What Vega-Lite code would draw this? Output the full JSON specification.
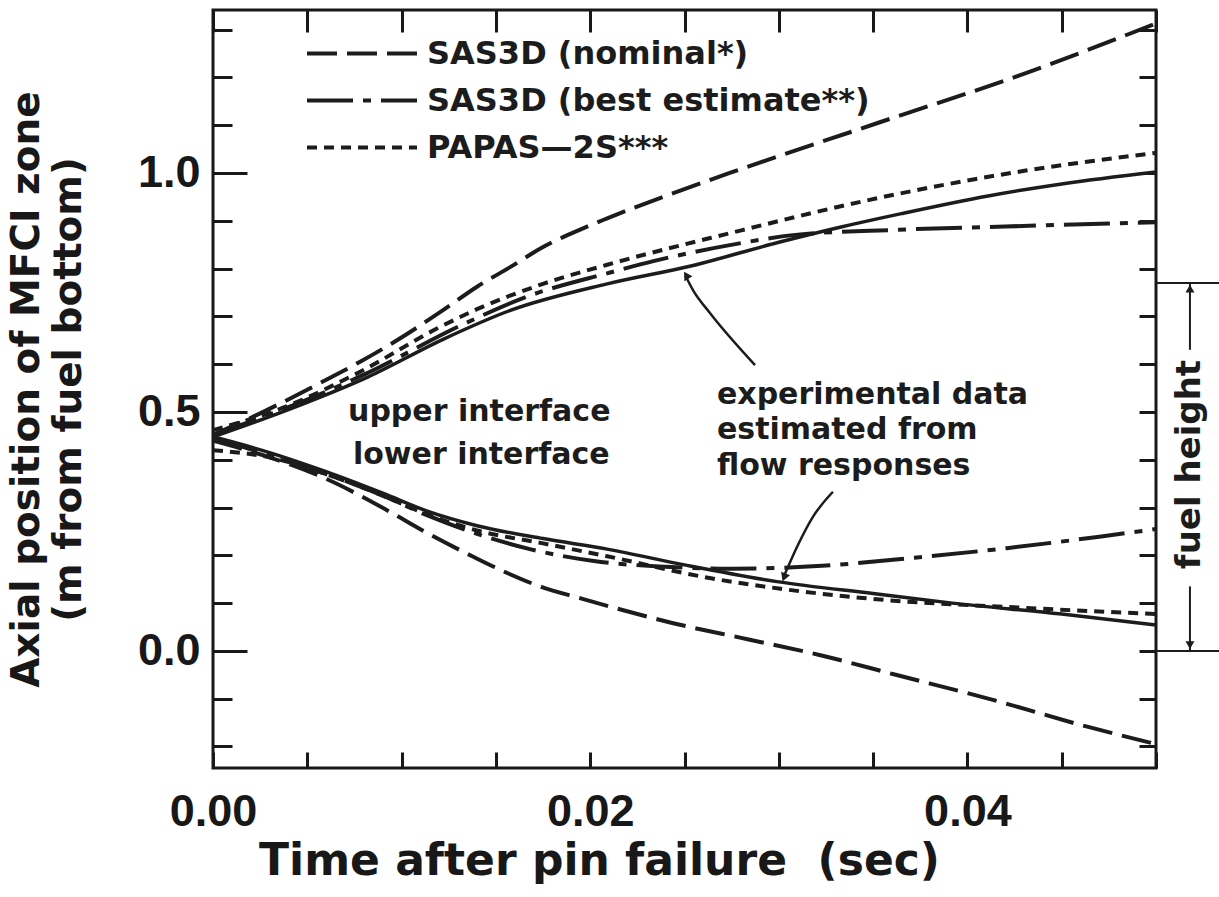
{
  "$schema": "https://vega.github.io/schema/vega-lite/v6.json",
  "width": 943,
  "height": 758,
  "autosize": {"type": "none"},
  "padding": {"left": 213, "top": 10, "right": 63, "bottom": 129},
  "background": "white",
  "config": {
    "view": {"stroke": "#181818", "strokeWidth": 3},
    "font": "DejaVu Sans",
    "axis": {"grid": false, "domain": false, "labelColor": "#181818", "tickColor": "#181818", "titleColor": "#181818", "tickWidth": 3}
  },
  "datasets": {
    "curves": [
      {"model": "SAS3D (nominal*)", "iface": "upper", "t": 0, "v": 0.452},
      {"model": "SAS3D (nominal*)", "iface": "upper", "t": 0.0025, "v": 0.497},
      {"model": "SAS3D (nominal*)", "iface": "upper", "t": 0.0057, "v": 0.561},
      {"model": "SAS3D (nominal*)", "iface": "upper", "t": 0.0078, "v": 0.605},
      {"model": "SAS3D (nominal*)", "iface": "upper", "t": 0.0098, "v": 0.651},
      {"model": "SAS3D (nominal*)", "iface": "upper", "t": 0.0122, "v": 0.713},
      {"model": "SAS3D (nominal*)", "iface": "upper", "t": 0.014, "v": 0.762},
      {"model": "SAS3D (nominal*)", "iface": "upper", "t": 0.0158, "v": 0.804},
      {"model": "SAS3D (nominal*)", "iface": "upper", "t": 0.0175, "v": 0.845},
      {"model": "SAS3D (nominal*)", "iface": "upper", "t": 0.0195, "v": 0.882},
      {"model": "SAS3D (nominal*)", "iface": "upper", "t": 0.0209, "v": 0.905},
      {"model": "SAS3D (nominal*)", "iface": "upper", "t": 0.0274, "v": 1.0},
      {"model": "SAS3D (nominal*)", "iface": "upper", "t": 0.0352, "v": 1.104},
      {"model": "SAS3D (nominal*)", "iface": "upper", "t": 0.0431, "v": 1.209},
      {"model": "SAS3D (nominal*)", "iface": "upper", "t": 0.05, "v": 1.313},

      {"model": "SAS3D (nominal*)", "iface": "lower", "t": 0, "v": 0.44},
      {"model": "SAS3D (nominal*)", "iface": "lower", "t": 0.003, "v": 0.405},
      {"model": "SAS3D (nominal*)", "iface": "lower", "t": 0.006, "v": 0.36},
      {"model": "SAS3D (nominal*)", "iface": "lower", "t": 0.0092, "v": 0.295},
      {"model": "SAS3D (nominal*)", "iface": "lower", "t": 0.0112, "v": 0.25},
      {"model": "SAS3D (nominal*)", "iface": "lower", "t": 0.0138, "v": 0.197},
      {"model": "SAS3D (nominal*)", "iface": "lower", "t": 0.0156, "v": 0.163},
      {"model": "SAS3D (nominal*)", "iface": "lower", "t": 0.0174, "v": 0.134},
      {"model": "SAS3D (nominal*)", "iface": "lower", "t": 0.0195, "v": 0.11},
      {"model": "SAS3D (nominal*)", "iface": "lower", "t": 0.0244, "v": 0.058},
      {"model": "SAS3D (nominal*)", "iface": "lower", "t": 0.0284, "v": 0.024},
      {"model": "SAS3D (nominal*)", "iface": "lower", "t": 0.0321, "v": -0.008},
      {"model": "SAS3D (nominal*)", "iface": "lower", "t": 0.0362, "v": -0.05},
      {"model": "SAS3D (nominal*)", "iface": "lower", "t": 0.0414, "v": -0.103},
      {"model": "SAS3D (nominal*)", "iface": "lower", "t": 0.0463, "v": -0.158},
      {"model": "SAS3D (nominal*)", "iface": "lower", "t": 0.05, "v": -0.195},

      {"model": "SAS3D (best estimate**)", "iface": "upper", "t": 0, "v": 0.452},
      {"model": "SAS3D (best estimate**)", "iface": "upper", "t": 0.004, "v": 0.51},
      {"model": "SAS3D (best estimate**)", "iface": "upper", "t": 0.008, "v": 0.578},
      {"model": "SAS3D (best estimate**)", "iface": "upper", "t": 0.0133, "v": 0.684},
      {"model": "SAS3D (best estimate**)", "iface": "upper", "t": 0.0167, "v": 0.742},
      {"model": "SAS3D (best estimate**)", "iface": "upper", "t": 0.0209, "v": 0.79},
      {"model": "SAS3D (best estimate**)", "iface": "upper", "t": 0.0234, "v": 0.816},
      {"model": "SAS3D (best estimate**)", "iface": "upper", "t": 0.0274, "v": 0.849},
      {"model": "SAS3D (best estimate**)", "iface": "upper", "t": 0.031, "v": 0.871},
      {"model": "SAS3D (best estimate**)", "iface": "upper", "t": 0.0362, "v": 0.881},
      {"model": "SAS3D (best estimate**)", "iface": "upper", "t": 0.042, "v": 0.888},
      {"model": "SAS3D (best estimate**)", "iface": "upper", "t": 0.05, "v": 0.897},

      {"model": "SAS3D (best estimate**)", "iface": "lower", "t": 0, "v": 0.445},
      {"model": "SAS3D (best estimate**)", "iface": "lower", "t": 0.003, "v": 0.41},
      {"model": "SAS3D (best estimate**)", "iface": "lower", "t": 0.006, "v": 0.37},
      {"model": "SAS3D (best estimate**)", "iface": "lower", "t": 0.009, "v": 0.325},
      {"model": "SAS3D (best estimate**)", "iface": "lower", "t": 0.0114, "v": 0.283},
      {"model": "SAS3D (best estimate**)", "iface": "lower", "t": 0.014, "v": 0.245},
      {"model": "SAS3D (best estimate**)", "iface": "lower", "t": 0.0168, "v": 0.213},
      {"model": "SAS3D (best estimate**)", "iface": "lower", "t": 0.0202, "v": 0.188},
      {"model": "SAS3D (best estimate**)", "iface": "lower", "t": 0.024, "v": 0.176},
      {"model": "SAS3D (best estimate**)", "iface": "lower", "t": 0.0274, "v": 0.172},
      {"model": "SAS3D (best estimate**)", "iface": "lower", "t": 0.0323, "v": 0.178},
      {"model": "SAS3D (best estimate**)", "iface": "lower", "t": 0.0372, "v": 0.195},
      {"model": "SAS3D (best estimate**)", "iface": "lower", "t": 0.0421, "v": 0.215},
      {"model": "SAS3D (best estimate**)", "iface": "lower", "t": 0.047, "v": 0.239},
      {"model": "SAS3D (best estimate**)", "iface": "lower", "t": 0.05, "v": 0.255},

      {"model": "PAPAS—2S***", "iface": "upper", "t": 0, "v": 0.462},
      {"model": "PAPAS—2S***", "iface": "upper", "t": 0.0034, "v": 0.504},
      {"model": "PAPAS—2S***", "iface": "upper", "t": 0.0078, "v": 0.584},
      {"model": "PAPAS—2S***", "iface": "upper", "t": 0.0119, "v": 0.675},
      {"model": "PAPAS—2S***", "iface": "upper", "t": 0.014, "v": 0.715},
      {"model": "PAPAS—2S***", "iface": "upper", "t": 0.0175, "v": 0.768},
      {"model": "PAPAS—2S***", "iface": "upper", "t": 0.0209, "v": 0.808},
      {"model": "PAPAS—2S***", "iface": "upper", "t": 0.0274, "v": 0.874},
      {"model": "PAPAS—2S***", "iface": "upper", "t": 0.0352, "v": 0.947},
      {"model": "PAPAS—2S***", "iface": "upper", "t": 0.0431, "v": 1.005},
      {"model": "PAPAS—2S***", "iface": "upper", "t": 0.05, "v": 1.042},

      {"model": "PAPAS—2S***", "iface": "lower", "t": 0, "v": 0.42},
      {"model": "PAPAS—2S***", "iface": "lower", "t": 0.003, "v": 0.405},
      {"model": "PAPAS—2S***", "iface": "lower", "t": 0.006, "v": 0.37},
      {"model": "PAPAS—2S***", "iface": "lower", "t": 0.009, "v": 0.325},
      {"model": "PAPAS—2S***", "iface": "lower", "t": 0.0114, "v": 0.285},
      {"model": "PAPAS—2S***", "iface": "lower", "t": 0.014, "v": 0.252},
      {"model": "PAPAS—2S***", "iface": "lower", "t": 0.0175, "v": 0.225},
      {"model": "PAPAS—2S***", "iface": "lower", "t": 0.0209, "v": 0.198},
      {"model": "PAPAS—2S***", "iface": "lower", "t": 0.0264, "v": 0.152},
      {"model": "PAPAS—2S***", "iface": "lower", "t": 0.0301, "v": 0.13},
      {"model": "PAPAS—2S***", "iface": "lower", "t": 0.0352, "v": 0.108},
      {"model": "PAPAS—2S***", "iface": "lower", "t": 0.0431, "v": 0.09},
      {"model": "PAPAS—2S***", "iface": "lower", "t": 0.05, "v": 0.077},

      {"model": "experimental", "iface": "upper", "t": 0, "v": 0.448},
      {"model": "experimental", "iface": "upper", "t": 0.004, "v": 0.505},
      {"model": "experimental", "iface": "upper", "t": 0.0082, "v": 0.573},
      {"model": "experimental", "iface": "upper", "t": 0.0122, "v": 0.652},
      {"model": "experimental", "iface": "upper", "t": 0.0158, "v": 0.713},
      {"model": "experimental", "iface": "upper", "t": 0.0209, "v": 0.768},
      {"model": "experimental", "iface": "upper", "t": 0.0254, "v": 0.806},
      {"model": "experimental", "iface": "upper", "t": 0.03, "v": 0.855},
      {"model": "experimental", "iface": "upper", "t": 0.0333, "v": 0.887},
      {"model": "experimental", "iface": "upper", "t": 0.0365, "v": 0.915},
      {"model": "experimental", "iface": "upper", "t": 0.0411, "v": 0.952},
      {"model": "experimental", "iface": "upper", "t": 0.045, "v": 0.977},
      {"model": "experimental", "iface": "upper", "t": 0.05, "v": 1.002},

      {"model": "experimental", "iface": "lower", "t": 0, "v": 0.448},
      {"model": "experimental", "iface": "lower", "t": 0.003, "v": 0.415},
      {"model": "experimental", "iface": "lower", "t": 0.006, "v": 0.375},
      {"model": "experimental", "iface": "lower", "t": 0.009, "v": 0.33},
      {"model": "experimental", "iface": "lower", "t": 0.0114, "v": 0.292},
      {"model": "experimental", "iface": "lower", "t": 0.014, "v": 0.262},
      {"model": "experimental", "iface": "lower", "t": 0.0175, "v": 0.235},
      {"model": "experimental", "iface": "lower", "t": 0.0209, "v": 0.213},
      {"model": "experimental", "iface": "lower", "t": 0.025, "v": 0.18},
      {"model": "experimental", "iface": "lower", "t": 0.0299, "v": 0.145},
      {"model": "experimental", "iface": "lower", "t": 0.035, "v": 0.12},
      {"model": "experimental", "iface": "lower", "t": 0.0392, "v": 0.1},
      {"model": "experimental", "iface": "lower", "t": 0.045, "v": 0.077},
      {"model": "experimental", "iface": "lower", "t": 0.05, "v": 0.054}
    ],
    "pointers": [
      {"arrow": "upper", "t": 0.02874, "v": 0.598},
      {"arrow": "upper", "t": 0.02635, "v": 0.707},
      {"arrow": "upper", "t": 0.02545, "v": 0.755},
      {"arrow": "upper", "t": 0.02505, "v": 0.785},
      {"arrow": "lower", "t": 0.03287, "v": 0.333},
      {"arrow": "lower", "t": 0.0318, "v": 0.28},
      {"arrow": "lower", "t": 0.03097, "v": 0.218},
      {"arrow": "lower", "t": 0.03026, "v": 0.155}
    ],
    "heads": [
      {"tip": "upper", "t": 0.02509, "v": 0.786},
      {"tip": "lower", "t": 0.03028, "v": 0.154},
      {"tip": "fuel top", "t": 0.0518, "v": 0.758},
      {"tip": "fuel base", "t": 0.0518, "v": 0.012}
    ],
    "fuel": [
      {"part": "top", "t1": 0.05, "t2": 0.0534, "v1": 0.77, "v2": 0.77},
      {"part": "base", "t1": 0.05, "t2": 0.0534, "v1": 0, "v2": 0},
      {"part": "up", "t1": 0.0518, "t2": 0.0518, "v1": 0.77, "v2": 0.63},
      {"part": "down", "t1": 0.0518, "t2": 0.0518, "v1": 0.135, "v2": 0}
    ],
    "notes": [
      {"label": "upper interface", "t": 0.00716, "v": 0.5},
      {"label": "lower interface", "t": 0.00742, "v": 0.41},
      {"label": "experimental data", "t": 0.02672, "v": 0.536},
      {"label": "estimated from", "t": 0.02672, "v": 0.462},
      {"label": "flow responses", "t": 0.02672, "v": 0.387}
    ],
    "side": [
      {"label": "fuel height", "t": 0.0518, "v": 0.39}
    ]
  },
  "resolve": {"axis": {"x": "independent", "y": "independent"}},
  "layer": [
    {
      "data": {"name": "curves"},
      "transform": [{"filter": "datum.model !== 'experimental'"}],
      "mark": {"type": "line", "interpolate": "monotone", "strokeWidth": 4, "color": "#1c1c1c"},
      "encoding": {
        "x": {
          "field": "t", "type": "quantitative",
          "scale": {"domain": [0, 0.05], "nice": false, "zero": false},
          "axis": {
            "orient": "bottom", "values": [0, 0.02, 0.04], "format": ".2f", "ticks": false,
            "labelFont": "Liberation Sans", "labelFontSize": 45, "labelFontWeight": "bold",
            "labelPadding": 21, "labelFlush": false,
            "title": "Time after pin failure \u00a0(sec)", "titleFont": "DejaVu Sans", "titleFontSize": 44,
            "titleFontWeight": "bold", "titleX": 386, "titleY": 93, "titleBaseline": "middle", "titleAlign": "center"
          }
        },
        "y": {
          "field": "v", "type": "quantitative",
          "scale": {"domain": [-0.245, 1.341], "nice": false, "zero": false},
          "axis": {
            "orient": "left", "values": [0, 0.5, 1.0], "format": ".1f", "ticks": false,
            "labelFont": "Liberation Sans", "labelFontSize": 45, "labelFontWeight": "bold", "labelPadding": 13,
            "title": ["Axial position of MFCI zone", "(m from fuel bottom)"], "titleFont": "DejaVu Sans",
            "titleFontSize": 39, "titleFontWeight": "bold", "titleLineHeight": 42, "titleAngle": 270,
            "titleX": -187, "titleY": 379, "titleBaseline": "middle", "titleAlign": "center"
          }
        },
        "strokeDash": {
          "field": "model", "type": "nominal",
          "scale": {
            "domain": ["SAS3D (nominal*)", "SAS3D (best estimate**)", "PAPAS—2S***"],
            "range": [[30, 10], [46, 10, 8, 10], [10, 7]]
          },
          "legend": {
            "orient": "none", "legendX": 92, "legendY": 20, "title": null, "padding": 0,
            "symbolType": "stroke", "symbolSize": 12100, "symbolStrokeWidth": 4, "symbolStrokeColor": "#1c1c1c",
            "labelFont": "DejaVu Sans", "labelFontSize": 32, "labelFontWeight": "bold", "labelColor": "#1c1c1c",
            "labelOffset": 8, "labelLimit": 0, "clipHeight": 47, "rowPadding": 0
          }
        },
        "detail": {"field": "iface", "type": "nominal"}
      }
    },
    {
      "data": {"name": "curves"},
      "transform": [{"filter": "datum.model === 'experimental'"}],
      "mark": {"type": "line", "interpolate": "monotone", "strokeWidth": 3.5, "color": "#1c1c1c"},
      "encoding": {
        "x": {
          "field": "t", "type": "quantitative",
          "scale": {"domain": [0, 0.05], "nice": false, "zero": false},
          "axis": {
            "orient": "top", "values": [0, 0.005, 0.01, 0.015, 0.02, 0.025, 0.03, 0.035, 0.04, 0.045, 0.05],
            "labels": false, "title": null, "tickSize": -22
          }
        },
        "y": {
          "field": "v", "type": "quantitative",
          "scale": {"domain": [-0.245, 1.341], "nice": false, "zero": false},
          "axis": {"orient": "left", "values": [0, 0.5, 1.0], "labels": false, "title": null, "tickSize": -34}
        },
        "detail": {"field": "iface", "type": "nominal"}
      }
    },
    {
      "data": {"name": "pointers"},
      "mark": {"type": "line", "interpolate": "monotone", "strokeWidth": 2.5, "color": "#1c1c1c"},
      "encoding": {
        "x": {
          "field": "t", "type": "quantitative",
          "scale": {"domain": [0, 0.05], "nice": false, "zero": false},
          "axis": {
            "orient": "bottom", "values": [0, 0.005, 0.01, 0.015, 0.02, 0.025, 0.03, 0.035, 0.04, 0.045, 0.05],
            "labels": false, "title": null, "tickSize": -16
          }
        },
        "y": {
          "field": "v", "type": "quantitative",
          "scale": {"domain": [-0.245, 1.341], "nice": false, "zero": false},
          "axis": {
            "orient": "left", "values": [-0.2, -0.1, 0.1, 0.2, 0.3, 0.4, 0.6, 0.7, 0.8, 0.9, 1.1, 1.2, 1.3],
            "labels": false, "title": null, "tickSize": -19
          }
        },
        "detail": {"field": "arrow", "type": "nominal"}
      }
    },
    {
      "data": {"name": "fuel"},
      "mark": {"type": "rule", "strokeWidth": 2, "color": "#1c1c1c"},
      "encoding": {
        "x": {"field": "t1", "type": "quantitative", "scale": {"domain": [0, 0.05], "nice": false, "zero": false}, "axis": null},
        "x2": {"field": "t2"},
        "y": {
          "field": "v1", "type": "quantitative",
          "scale": {"domain": [-0.245, 1.341], "nice": false, "zero": false},
          "axis": {
            "orient": "right", "values": [-0.2, -0.1, 0, 0.1, 0.2, 0.3, 0.4, 0.5, 0.6, 0.7, 0.8, 0.9, 1.0, 1.1, 1.2, 1.3],
            "labels": false, "title": null, "tickSize": -17
          }
        },
        "y2": {"field": "v2"}
      }
    },
    {
      "data": {"name": "heads"},
      "transform": [{"filter": "datum.tip === 'upper'"}],
      "mark": {"type": "point", "shape": "triangle-up", "filled": true, "size": 90, "angle": -32, "color": "#1c1c1c", "opacity": 1},
      "encoding": {
        "x": {"field": "t", "type": "quantitative", "scale": {"domain": [0, 0.05], "nice": false, "zero": false}, "axis": null},
        "y": {"field": "v", "type": "quantitative", "scale": {"domain": [-0.245, 1.341], "nice": false, "zero": false}, "axis": null}
      }
    },
    {
      "data": {"name": "heads"},
      "transform": [{"filter": "datum.tip === 'lower'"}],
      "mark": {"type": "point", "shape": "triangle-down", "filled": true, "size": 90, "angle": 21, "color": "#1c1c1c", "opacity": 1},
      "encoding": {
        "x": {"field": "t", "type": "quantitative", "scale": {"domain": [0, 0.05], "nice": false, "zero": false}, "axis": null},
        "y": {"field": "v", "type": "quantitative", "scale": {"domain": [-0.245, 1.341], "nice": false, "zero": false}, "axis": null}
      }
    },
    {
      "data": {"name": "heads"},
      "transform": [{"filter": "datum.tip === 'fuel top'"}],
      "mark": {"type": "point", "shape": "triangle-up", "filled": true, "size": 80, "color": "#1c1c1c", "opacity": 1},
      "encoding": {
        "x": {"field": "t", "type": "quantitative", "scale": {"domain": [0, 0.05], "nice": false, "zero": false}, "axis": null},
        "y": {"field": "v", "type": "quantitative", "scale": {"domain": [-0.245, 1.341], "nice": false, "zero": false}, "axis": null}
      }
    },
    {
      "data": {"name": "heads"},
      "transform": [{"filter": "datum.tip === 'fuel base'"}],
      "mark": {"type": "point", "shape": "triangle-down", "filled": true, "size": 80, "color": "#1c1c1c", "opacity": 1},
      "encoding": {
        "x": {"field": "t", "type": "quantitative", "scale": {"domain": [0, 0.05], "nice": false, "zero": false}, "axis": null},
        "y": {"field": "v", "type": "quantitative", "scale": {"domain": [-0.245, 1.341], "nice": false, "zero": false}, "axis": null}
      }
    },
    {
      "data": {"name": "notes"},
      "mark": {"type": "text", "align": "left", "baseline": "middle", "font": "DejaVu Sans", "fontSize": 30, "fontWeight": "bold", "color": "#1c1c1c"},
      "encoding": {
        "x": {"field": "t", "type": "quantitative", "scale": {"domain": [0, 0.05], "nice": false, "zero": false}, "axis": null},
        "y": {"field": "v", "type": "quantitative", "scale": {"domain": [-0.245, 1.341], "nice": false, "zero": false}, "axis": null},
        "text": {"field": "label", "type": "nominal"}
      }
    },
    {
      "data": {"name": "side"},
      "mark": {"type": "text", "align": "center", "baseline": "middle", "angle": -90, "font": "DejaVu Sans", "fontSize": 34, "fontWeight": "bold", "color": "#1c1c1c"},
      "encoding": {
        "x": {"field": "t", "type": "quantitative", "scale": {"domain": [0, 0.05], "nice": false, "zero": false}, "axis": null},
        "y": {"field": "v", "type": "quantitative", "scale": {"domain": [-0.245, 1.341], "nice": false, "zero": false}, "axis": null},
        "text": {"field": "label", "type": "nominal"}
      }
    }
  ]
}
